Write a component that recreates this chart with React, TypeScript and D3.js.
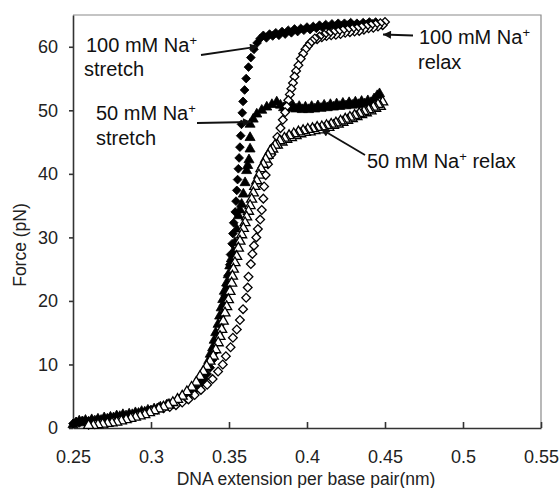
import { useEffect, useRef } from 'react'
import * as d3 from 'd3'

// DNA extension (nm per bp) vs force (pN)
const stretch100: [number, number][] = [
  [0.250,0.7],[0.252,1.0],[0.254,0.8],[0.256,1.2],[0.258,0.9],[0.260,1.1],[0.262,1.3],[0.264,1.0],[0.266,1.4],[0.268,1.2],
  [0.270,1.5],[0.272,1.3],[0.274,1.7],[0.276,1.5],[0.278,1.8],[0.280,1.7],[0.282,2.0],[0.284,1.8],[0.286,2.1],[0.288,2.0],
  [0.290,2.3],[0.292,2.2],[0.294,2.5],[0.296,2.4],[0.298,2.7],[0.300,2.6],[0.302,2.9],[0.304,2.9],[0.306,3.2],[0.308,3.2],
  [0.310,3.5],[0.312,3.6],[0.314,3.9],[0.316,4.0],[0.318,4.3],[0.320,4.5],[0.322,4.8],[0.324,5.1],[0.326,5.5],[0.328,5.9],
  [0.330,6.4],[0.332,7.0],[0.334,7.7],[0.336,8.5],[0.338,9.5],[0.3395,10.7],[0.341,12.0],[0.342,13.4],[0.343,14.8],[0.3445,16.3],
  [0.3455,17.8],[0.3465,19.3],[0.3475,20.8],[0.3485,22.4],[0.3495,24.0],[0.3505,25.7],[0.351,27.3],[0.352,29.0],[0.3525,30.6],[0.353,32.3],
  [0.354,34.0],[0.3545,35.7],[0.355,37.4],[0.3555,39.1],[0.356,40.8],[0.3565,42.5],[0.357,44.2],[0.3575,46.0],[0.358,47.8],[0.3585,49.6],
  [0.359,51.4],[0.360,53.2],[0.361,55.0],[0.3625,56.8],[0.364,58.3],[0.366,59.6],[0.368,60.6],[0.370,61.3],[0.372,61.8],[0.374,61.4],
  [0.376,62.0],[0.378,61.7],[0.380,62.2],[0.382,61.8],[0.384,62.4],[0.386,62.0],[0.388,62.6],[0.390,62.2],[0.392,62.8],[0.394,62.4],
  [0.396,62.9],[0.398,62.6],[0.400,63.1],[0.402,62.7],[0.404,63.2],[0.406,62.9],[0.408,63.4],[0.410,63.0],[0.412,63.5],[0.414,63.1],
  [0.416,63.6],[0.418,63.2],[0.420,63.7],[0.422,63.3],[0.424,63.7],[0.426,63.4],[0.428,63.8],[0.430,63.3],[0.432,63.7],[0.434,63.4],
  [0.436,63.8],[0.438,63.5],[0.440,63.9],[0.442,63.6],[0.444,63.9]
]

const relax100: [number, number][] = [
  [0.450,63.9],[0.4485,63.4],[0.447,63.7],[0.4455,63.2],[0.444,63.5],[0.4425,63.0],[0.441,63.4],[0.4395,62.9],[0.438,63.2],[0.4365,62.7],
  [0.435,63.1],[0.4335,62.5],[0.432,62.9],[0.4305,62.4],[0.429,62.8],[0.4275,62.3],[0.426,62.7],[0.4245,62.2],[0.423,62.6],[0.4215,62.0],
  [0.420,62.4],[0.4185,61.9],[0.417,62.3],[0.4155,61.8],[0.414,62.1],[0.4125,61.7],[0.411,61.9],[0.4095,61.5],[0.408,61.6],[0.4065,61.2],
  [0.405,61.3],[0.4035,60.9],[0.402,60.6],[0.4005,60.1],[0.399,59.6],[0.3975,58.9],[0.396,58.1],[0.3945,57.1],[0.393,56.2],[0.392,55.3],
  [0.391,54.3],[0.390,53.4],[0.389,52.5],[0.388,51.6],[0.387,50.6],[0.386,49.7],[0.3845,48.5],[0.383,47.2],[0.381,45.8],[0.379,44.4],
  [0.377,43.0],[0.375,41.5],[0.3735,39.8],[0.3725,38.0],[0.372,36.1],[0.371,34.3],[0.370,32.8],[0.3685,31.3],[0.3675,30.0],[0.366,28.7],
  [0.365,27.4],[0.364,25.8],[0.3625,23.8],[0.362,22.1],[0.361,20.5],[0.359,18.7],[0.357,17.0],[0.355,15.5],[0.3525,14.2],[0.351,12.7],
  [0.348,11.3],[0.346,10.0],[0.343,8.9],[0.3395,7.7],[0.336,6.8],[0.332,6.0],[0.328,5.2],[0.324,4.5],[0.320,4.0],[0.316,3.6],
  [0.312,3.3],[0.308,3.1],[0.304,2.9],[0.300,2.7],[0.296,2.4],[0.292,2.0],[0.288,1.7],[0.284,1.4],[0.280,1.2],[0.276,1.0],
  [0.272,0.8],[0.268,0.7],[0.264,0.6],[0.260,0.5]
]

const stretch50: [number, number][] = [
  [0.250,0.5],[0.252,0.8],[0.254,1.1],[0.256,0.8],[0.258,1.2],[0.260,0.9],[0.262,1.3],[0.264,1.1],[0.266,1.4],[0.268,1.2],
  [0.270,1.6],[0.272,1.4],[0.274,1.7],[0.276,1.6],[0.278,1.9],[0.280,1.8],[0.282,2.1],[0.284,1.9],[0.286,2.2],[0.288,2.1],
  [0.290,2.4],[0.292,2.3],[0.294,2.6],[0.296,2.5],[0.298,2.8],[0.300,2.7],[0.302,3.0],[0.304,3.0],[0.306,3.3],[0.308,3.3],
  [0.310,3.6],[0.312,3.7],[0.314,3.9],[0.316,4.1],[0.318,4.4],[0.320,4.6],[0.322,5.0],[0.324,5.4],[0.326,5.8],[0.328,6.3],
  [0.330,7.0],[0.332,7.8],[0.334,8.7],[0.3355,9.6],[0.337,10.6],[0.338,11.6],[0.3395,12.6],[0.3405,13.8],[0.3415,15.0],[0.343,16.3],
  [0.344,17.6],[0.345,18.9],[0.346,20.2],[0.347,21.5],[0.3485,22.8],[0.3495,24.1],[0.3505,25.5],[0.3515,26.6],[0.3528,27.8],[0.3538,29.2],
  [0.3549,31.3],[0.356,33.4],[0.357,34.3],[0.3581,35.2],[0.3592,36.8],[0.3603,38.6],[0.3613,40.5],[0.362,41.3],[0.3628,42.2],[0.3635,43.9],
  [0.3635,45.7],[0.3635,47.8],[0.3655,48.6],[0.3678,49.4],[0.371,50.0],[0.3742,50.5],[0.3775,50.9],[0.3806,51.3],[0.383,50.8],[0.385,50.4],
  [0.387,50.9],[0.389,50.3],[0.391,50.7],[0.393,50.2],[0.395,50.6],[0.397,50.1],[0.399,50.5],[0.401,50.1],[0.403,50.6],[0.405,50.2],
  [0.407,50.7],[0.409,50.3],[0.411,50.8],[0.413,50.4],[0.415,50.9],[0.417,50.5],[0.419,51.0],[0.421,50.6],[0.423,51.1],[0.425,50.7],
  [0.427,51.2],[0.429,50.8],[0.431,51.3],[0.433,50.9],[0.435,51.4],[0.437,51.0],[0.439,51.5],[0.441,51.2],[0.443,51.8],[0.445,52.3],
  [0.4465,52.6]
]

const relax50: [number, number][] = [
  [0.4485,51.3],[0.447,50.6],[0.4455,50.9],[0.444,50.3],[0.4425,50.5],[0.441,49.9],[0.4395,50.1],[0.438,49.6],[0.4365,49.8],[0.435,49.3],
  [0.4335,49.5],[0.432,49.0],[0.4305,49.2],[0.429,48.7],[0.4275,48.9],[0.426,48.4],[0.4245,48.6],[0.423,48.1],[0.4215,48.3],[0.420,47.8],
  [0.4185,48.0],[0.417,47.6],[0.4155,47.8],[0.414,47.3],[0.4125,47.6],[0.411,47.1],[0.4095,47.4],[0.408,46.9],[0.4065,47.3],[0.405,46.8],
  [0.4035,47.1],[0.402,46.6],[0.4005,47.0],[0.399,46.5],[0.3975,46.8],[0.396,46.3],[0.3945,46.6],[0.393,46.0],[0.3915,46.3],[0.390,45.7],
  [0.3885,46.0],[0.387,45.4],[0.3855,45.6],[0.384,45.0],[0.3825,45.2],[0.381,44.5],[0.3795,44.5],[0.378,43.9],[0.3765,43.6],[0.375,42.9],
  [0.3735,42.3],[0.372,41.5],[0.3705,40.8],[0.3692,39.8],[0.3678,38.9],[0.3665,38.0],[0.3656,37.0],[0.3645,36.0],[0.3635,35.0],[0.3625,34.1],
  [0.3613,33.2],[0.3603,32.3],[0.3592,31.4],[0.3581,30.4],[0.357,29.4],[0.356,28.3],[0.3549,27.0],[0.3538,26.0],[0.3528,25.0],[0.3522,23.9],
  [0.3517,22.8],[0.3506,21.5],[0.3496,20.2],[0.3485,19.1],[0.3474,18.1],[0.3463,16.8],[0.3453,15.5],[0.3442,14.4],[0.3431,13.4],[0.3415,12.3],
  [0.3399,11.3],[0.3378,10.5],[0.3357,9.7],[0.3335,8.9],[0.3314,8.1],[0.329,7.2],[0.326,6.4],[0.323,5.7],[0.320,5.0],[0.317,4.5],
  [0.314,4.0],[0.311,3.6],[0.308,3.3],[0.305,3.0],[0.302,2.7],[0.299,2.4],[0.296,2.1],[0.293,1.9],[0.290,1.7],[0.287,1.5],
  [0.284,1.3],[0.281,1.1],[0.278,0.9],[0.275,0.8],[0.272,0.7],[0.269,0.6],[0.266,0.5],[0.263,0.4],[0.260,0.4]
]

const xTicks = [0.25, 0.3, 0.35, 0.4, 0.45, 0.5, 0.55]
const yTicks = [0, 10, 20, 30, 40, 50, 60]

export default function App() {
  const svgRef = useRef<SVGSVGElement>(null)

  useEffect(() => {
    const width = 560
    const height = 488
    const margin = { top: 15, right: 19, bottom: 60, left: 73 }
    const font = 'Liberation Sans, Arial, sans-serif'

    const svg = d3.select(svgRef.current)
      .attr('width', width)
      .attr('height', height)
    svg.selectAll('*').remove()

    svg.append('rect').attr('width', width).attr('height', height).attr('fill', '#fff')

    const x = d3.scaleLinear().domain([0.25, 0.55]).range([margin.left, width - margin.right])
    const y = d3.scaleLinear().domain([0, 65]).range([height - margin.bottom, margin.top])

    // frame top + right
    svg.append('path')
      .attr('d', `M${x(0.25)},${y(65)}H${x(0.55)}V${y(0)}`)
      .attr('fill', 'none')
      .attr('stroke', '#8a8a8a')
      .attr('stroke-width', 1.2)

    // X axis
    const gx = svg.append('g')
      .attr('transform', `translate(0,${y(0)})`)
      .call(d3.axisBottom(x).tickValues(xTicks).tickSizeInner(-6).tickSizeOuter(0).tickPadding(22).tickFormat(d => String(d)))
    gx.selectAll('path,line').attr('stroke', '#333').attr('stroke-width', 1.6)
    gx.selectAll('text').attr('fill', '#222').attr('font-size', 18).attr('font-family', font)

    // Y axis
    const gy = svg.append('g')
      .attr('transform', `translate(${x(0.25)},0)`)
      .call(d3.axisLeft(y).tickValues(yTicks).tickSizeInner(4).tickSizeOuter(0).tickPadding(11))
    gy.selectAll('path,line').attr('stroke', '#333').attr('stroke-width', 1.6)
    gy.selectAll('text').attr('fill', '#222').attr('font-size', 18).attr('font-family', font)

    // axis titles
    svg.append('text')
      .attr('x', 306).attr('y', 485)
      .attr('text-anchor', 'middle')
      .attr('font-size', 17.5).attr('font-family', font).attr('fill', '#222')
      .text('DNA extension per base pair(nm)')
    svg.append('text')
      .attr('transform', 'translate(26,245) rotate(-90)')
      .attr('text-anchor', 'middle')
      .attr('font-size', 17.5).attr('font-family', font).attr('fill', '#222')
      .text('Force (pN)')

    const diamond = d3.symbol(d3.symbolSquare, 38)()
    const triangle = d3.symbol(d3.symbolTriangle, 44)()

    const plot = (data: [number, number][], path: string | null, rotate: number, filled: boolean) => {
      svg.append('g').selectAll('path')
        .data(data)
        .join('path')
        .attr('d', path)
        .attr('transform', d => `translate(${x(d[0])},${y(d[1])}) rotate(${rotate})`)
        .attr('fill', filled ? '#000' : '#fff')
        .attr('stroke', '#000')
        .attr('stroke-width', filled ? 0.8 : 1.3)
    }

    plot(stretch100, diamond, 45, true)
    plot(stretch50, triangle, 0, true)
    plot(relax100, diamond, 45, false)
    plot(relax50, triangle, 0, false)

    // arrows
    const defs = svg.append('defs')
    defs.append('marker')
      .attr('id', 'ah')
      .attr('viewBox', '0 0 10 10')
      .attr('refX', 10).attr('refY', 5)
      .attr('markerUnits', 'userSpaceOnUse')
      .attr('markerWidth', 10).attr('markerHeight', 8)
      .attr('orient', 'auto')
      .append('path').attr('d', 'M0,0L10,5L0,10z').attr('fill', '#111')

    const arrows = [
      [201, 55, 258, 46.5],
      [197, 123, 251, 122],
      [413, 35.5, 383, 34.5],
      [365, 155, 321, 129]
    ]
    svg.append('g').selectAll('line')
      .data(arrows)
      .join('line')
      .attr('x1', d => d[0]).attr('y1', d => d[1])
      .attr('x2', d => d[2]).attr('y2', d => d[3])
      .attr('stroke', '#111').attr('stroke-width', 1.8)
      .attr('marker-end', 'url(#ah)')

    // annotations
    const label = (lx: number, ly: number, main: string, tail?: string) => {
      const t = svg.append('text')
        .attr('x', lx).attr('y', ly)
        .attr('font-size', 20).attr('font-family', font).attr('fill', '#111')
      t.append('tspan').text(main)
      t.append('tspan').attr('dy', -7).attr('font-size', 13).text('+')
      if (tail) t.append('tspan').attr('dy', 7).text(tail)
    }
    const plain = (lx: number, ly: number, s: string) => {
      svg.append('text')
        .attr('x', lx).attr('y', ly)
        .attr('font-size', 20).attr('font-family', font).attr('fill', '#111')
        .text(s)
    }

    label(86, 52, '100 mM Na')
    plain(84, 76, 'stretch')
    label(96, 120, '50 mM Na')
    plain(96, 145, 'stretch')
    label(419, 44, '100 mM Na')
    plain(418, 69, 'relax')
    label(367, 168, '50 mM Na', ' relax')
  }, [])

  return (
    <svg ref={svgRef} style={{ position: 'absolute', left: 0, top: 0 }}></svg>
  )
}
